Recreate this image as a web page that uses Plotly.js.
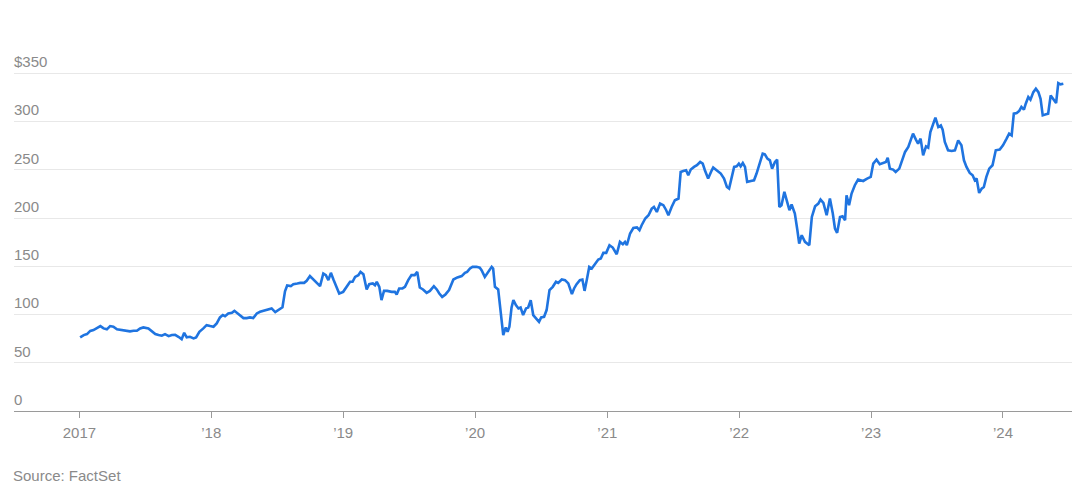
<!DOCTYPE html>
<html>
<head>
<meta charset="utf-8">
<script src="https://cdn.plot.ly/plotly-3.0.1.min.js"></script>
<style>html,body{margin:0;padding:0;background:#fff;}#chart{width:1080px;height:495px;}</style>
</head>
<body>
<div id="chart"></div>
<script>
// Time as decimal years
const years = [
2017.008,2017.033,2017.058,2017.083,2017.108,2017.134,2017.159,2017.184,2017.210,2017.235,2017.260,2017.286,2017.311,2017.336,2017.361,2017.386,2017.411,2017.437,2017.462,2017.487,2017.525,2017.551,2017.576,2017.601,2017.627,2017.652,2017.677,2017.702,2017.727,2017.752,2017.778,2017.795,2017.816,2017.841,2017.866,2017.886,2017.911,2017.942,2017.967,2017.992,
2018.017,2018.043,2018.068,2018.089,2018.106,2018.131,2018.157,2018.177,2018.195,2018.220,2018.245,2018.270,2018.295,2018.320,2018.346,2018.371,2018.396,2018.422,2018.460,2018.485,2018.510,2018.540,2018.561,2018.578,2018.604,2018.623,2018.654,2018.674,2018.705,2018.725,2018.750,2018.775,2018.801,2018.826,2018.851,2018.871,2018.889,2018.907,2018.927,2018.952,2018.972,
2019.002,2019.028,2019.053,2019.073,2019.091,2019.116,2019.134,2019.154,2019.180,2019.199,2019.225,2019.242,2019.255,2019.275,2019.293,2019.311,2019.336,2019.369,2019.394,2019.407,2019.427,2019.452,2019.470,2019.495,2019.520,2019.545,2019.563,2019.583,2019.608,2019.634,2019.659,2019.689,2019.710,2019.730,2019.752,2019.778,2019.805,2019.836,2019.866,2019.899,2019.924,2019.942,2019.962,2019.983,
2020.013,2020.038,2020.051,2020.076,2020.101,2020.127,2020.139,2020.152,2020.177,2020.195,2020.215,2020.233,2020.248,2020.260,2020.278,2020.290,2020.311,2020.328,2020.346,2020.366,2020.386,2020.404,2020.422,2020.442,2020.467,2020.485,2020.500,2020.523,2020.543,2020.563,2020.589,2020.614,2020.631,2020.657,2020.682,2020.707,2020.733,2020.750,2020.770,2020.795,2020.813,2020.828,2020.846,2020.864,2020.884,2020.909,2020.934,2020.952,2020.972,2020.992,
2021.017,2021.043,2021.073,2021.098,2021.119,2021.136,2021.149,2021.174,2021.199,2021.225,2021.245,2021.263,2021.288,2021.313,2021.339,2021.356,2021.377,2021.402,2021.427,2021.447,2021.465,2021.490,2021.515,2021.540,2021.558,2021.578,2021.598,2021.616,2021.634,2021.659,2021.680,2021.705,2021.725,2021.742,2021.767,2021.793,2021.805,2021.836,2021.861,2021.886,2021.907,2021.926,2021.945,2021.962,2021.983,2021.998,
2022.013,2022.028,2022.045,2022.063,2022.089,2022.114,2022.134,2022.159,2022.180,2022.197,2022.214,2022.235,2022.252,2022.273,2022.290,2022.305,2022.323,2022.343,2022.361,2022.381,2022.399,2022.424,2022.442,2022.457,2022.475,2022.500,2022.533,2022.551,2022.576,2022.601,2022.619,2022.639,2022.664,2022.689,2022.710,2022.727,2022.745,2022.765,2022.785,2022.803,2022.816,2022.835,2022.854,2022.879,2022.904,2022.942,2022.972,2022.998,
2023.017,2023.043,2023.068,2023.093,2023.114,2023.127,2023.144,2023.169,2023.189,2023.214,2023.240,2023.258,2023.283,2023.301,2023.320,2023.341,2023.358,2023.376,2023.396,2023.417,2023.434,2023.452,2023.472,2023.490,2023.510,2023.530,2023.543,2023.561,2023.586,2023.611,2023.636,2023.661,2023.687,2023.705,2023.725,2023.750,2023.770,2023.788,2023.801,2023.820,2023.839,2023.856,2023.876,2023.896,2023.922,2023.947,2023.977,
2024.002,2024.028,2024.048,2024.066,2024.083,2024.104,2024.123,2024.142,2024.159,2024.174,2024.192,2024.210,2024.230,2024.250,2024.268,2024.286,2024.301,2024.326,2024.343,2024.361,2024.381,2024.402,2024.419,2024.437,2024.457
];
// Share price in dollars
const prices = [
76.3,78.7,79.7,83,83.9,85.6,88,85.6,84.6,88,87.3,84.6,83.9,83.9,83.1,82.5,83.1,83.1,85.6,86.6,85.6,82.1,79.7,78.7,78,79.7,77.6,78.7,79,76.9,74.5,81,76.3,76.9,75.3,76.3,82.1,85.6,89,88,
87.3,90.8,97,99.4,98.3,101.1,101.8,103.8,101.8,98.3,96.3,96.3,97,96.3,101.1,102.8,103.8,105.3,106.3,102.5,104.6,107.5,124,130,129.4,131.5,132.2,132.8,132.8,134.9,139.8,136.3,132.2,129.4,142.5,140.8,135.6,143.2,136.3,127,121.8,
123.5,128.7,133.9,133.9,139,140.8,144.2,141.8,126,131.5,132.2,130.4,133.9,128.7,114.9,124.5,124.5,123.5,123.5,120.8,127,127,128.7,135.6,140.8,140.8,144.2,128,126,122.5,124.5,129.4,126,121.8,118.3,120.8,125.3,136.3,138.4,139.8,143.2,144.2,147.7,149.4,
149.4,148.6,146,139,144.2,149.4,147.7,128.7,126,104.6,78.7,86.6,82.1,87.3,107.3,114.9,109.7,106.3,107.3,99.4,106.3,107.3,114.9,99.4,96,92.4,97,97.6,104.6,125.3,128.7,133.9,132.8,136.3,135.6,132.2,121.1,127,131.5,135.6,136.3,124.5,135.6,149.4,147.7,152.9,157,158,163.9,163.9,
171.8,169.4,162.5,175.3,172.9,175.3,171.8,184,189.6,190.2,187.4,192.5,199.5,202.9,209.8,211.5,206.3,215,213.3,208.1,202.9,211.5,218.4,220.2,247.7,248.8,249.5,244.3,250.2,253,254.7,258.1,256.4,249.5,240.9,249.5,252.3,248.8,246.1,240.9,232.2,230.5,242.6,253,253.6,256.4,
253.6,257,253,237.4,238.4,239.1,246.1,258.1,266.7,266,261.6,259.8,251.2,258.1,260.5,211.5,213.3,227.1,218.4,208.1,214,204.6,187.4,173.6,182.2,175.3,171.8,201.1,212.2,215,219.1,215.7,202.9,220.2,204.6,189.1,184.6,201.1,201.8,197.7,223.6,213.3,225.4,234,239.9,238.4,240.9,242.6,
256.4,260.5,255.7,257,258.1,262.6,251.2,250.2,247.7,251.2,261.6,268.5,273.6,280.5,287.5,281.3,277.2,282.3,265,274.3,273,289.1,297.1,304,294.3,296,291.6,278.8,270.2,269.5,270.2,280.5,275.4,259.8,252.9,246.7,244.3,239.1,240.9,226,230.5,232.2,242.6,251.2,254.7,270.2,270.9,
275.4,282.3,287.5,285.7,308.2,308.9,311,315.1,312.3,318.5,325.4,322.7,330.5,334.1,330.5,323.6,306.4,307.5,308.2,327.1,323.6,319.1,339.8,338.5,339.2
];
const yTickVals = [0, 50, 100, 150, 200, 250, 300, 350];
const yTickText = ['0', '50', '100', '150', '200', '250', '300', '$350'];
const xTickYears = ['2017', '2018', '2019', '2020', '2021', '2022', '2023', '2024'];
const xTickText = ['2017', '’18', '’19', '’20', '’21', '’22', '’23', '’24'];
const sourceText = 'Source: FactSet';

function yearToDate(y) {
  const yr = Math.floor(y);
  const start = Date.UTC(yr, 0, 1);
  const end = Date.UTC(yr + 1, 0, 1);
  return new Date(start + (y - yr) * (end - start)).toISOString().slice(0, 10);
}
const dates = years.map(yearToDate);

const font = 'Liberation Sans, Arial, Helvetica, sans-serif';
const trace = {
  x: dates, y: prices, type: 'scatter', mode: 'lines',
  line: {color: '#1f74e0', width: 2.6, shape: 'linear'},
  hoverinfo: 'x+y'
};
const layout = {
  width: 1080, height: 495,
  margin: {l: 14, r: 8, t: 54, b: 84},
  paper_bgcolor: '#ffffff', plot_bgcolor: '#ffffff',
  showlegend: false,
  font: {family: font, size: 15, color: '#8a8a8a'},
  xaxis: {
    type: 'date',
    range: ['2016-07-04', '2024-07-10'],
    tickvals: xTickYears.map(y => y + '-01-01'),
    ticktext: xTickText,
    ticks: 'outside', ticklen: 6, tickcolor: '#9a9a9a', tickwidth: 1,
    showline: true, linecolor: '#9a9a9a', linewidth: 1,
    showgrid: false, zeroline: false,
    tickfont: {family: font, size: 15, color: '#8a8a8a'},
    ticklabelstandoff: 2
  },
  yaxis: {
    range: [0, 370],
    tickvals: yTickVals, ticktext: yTickText,
    ticklabelposition: 'inside top',
    ticklabeloverflow: 'allow',
    ticks: '', showline: false, zeroline: false,
    showgrid: true, gridcolor: '#e8e8e8', gridwidth: 1,
    tickfont: {family: font, size: 15, color: '#8a8a8a'},
    ticklabelstandoff: -3,
    ticklabelshift: -1
  },
  annotations: [{
    text: sourceText, xref: 'paper', yref: 'paper',
    x: 0, y: -0.181, xanchor: 'left', yanchor: 'middle', showarrow: false,
    xshift: -3,
    font: {family: font, size: 15, color: '#8a8a8a'}
  }]
};
Plotly.newPlot('chart', [trace], layout, {displayModeBar: false, staticPlot: true});
</script>
</body>
</html>
